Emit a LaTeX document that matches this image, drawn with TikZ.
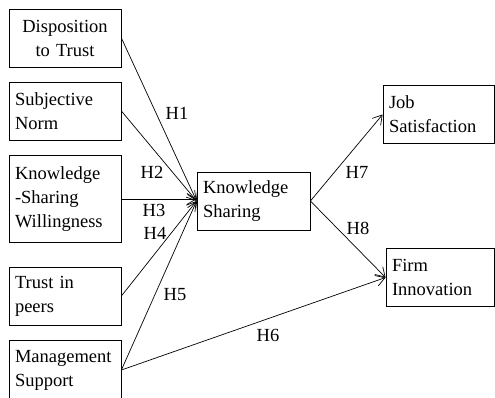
\documentclass[tikz,border=0pt]{standalone}
\usepackage{fontspec}
\setmainfont{Liberation Serif}
\usetikzlibrary{arrows.meta}

\tikzset{
  box/.style={draw, line width=0.8pt, minimum width=112pt, minimum height=58pt,
    text width=100pt, align=left, inner xsep=6pt,
    font=\fontsize{18.5}{24}\selectfont},
  hyp/.style={font=\fontsize{18.5}{20}\selectfont, inner sep=0pt},
  link/.style={line width=0.7pt, -{Straight Barb[length=9pt,width=11pt]}}
}

\begin{document}
\begin{tikzpicture}[x=1pt, y=-1pt]
  \useasboundingbox (0,0) rectangle (495,397);

  % antecedents on the left
  \node[box, align=center] (disp) at (65,38)  {Disposition\\to Trust};
  \node[box]               (norm) at (65,111) {Subjective\\Norm};
  \node[box, minimum height=87pt] (will) at (65,199) {Knowledge\\-Sharing\\Willingness};
  \node[box]               (peer) at (65,296) {Trust in\\peers};
  \node[box, minimum height=60pt] (mgmt) at (65,370) {Management\\Support};

  % mediator and outcomes
  \node[box, minimum width=113pt, text width=101pt] (ks) at (253.5,201) {Knowledge\\Sharing};
  \node[box, minimum width=111pt, text width=99pt] (job) at (438.5,114.5) {Job\\Satisfaction};
  \node[box, minimum width=108pt, text width=96pt] (firm) at (440,277.5) {Firm\\Innovation};

  % hypotheses
  \draw[link] (disp.east) -- (ks.west);
  \draw[link] (norm.east) -- (ks.west);
  \draw[link] (will.east) -- (will.east -| ks.west);
  \draw[link] (peer.east) -- (ks.west);
  \draw[link] (mgmt.east) -- (ks.west);
  \draw[link] (mgmt.east) -- (firm.west);
  \draw[link] (ks.east) -- (job.west);
  \draw[link] (ks.east) -- (firm.west);

  % labels
  \node[hyp] (h1) at (177,113) {H1};
  \node[hyp] (h2) at (152,172) {H2};
  \node[hyp] (h3) at (154,210) {H3};
  \node[hyp] (h4) at (155,233) {H4};
  \node[hyp] (h5) at (175,295) {H5};
  \node[hyp] (h6) at (268,335) {H6};
  \node[hyp] (h7) at (357,172) {H7};
  \node[hyp] (h8) at (358,228) {H8};
\end{tikzpicture}
\end{document}
